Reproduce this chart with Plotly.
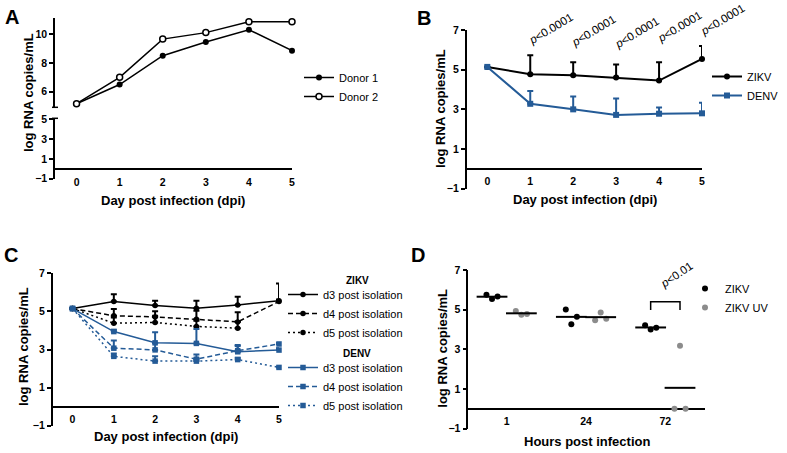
import plotly.graph_objects as go
import numpy as np

W, H = 787, 453
def fx(p): return p / W
def fy(p): return 1 - p / H

BLUE = "#245b97"
GRAY = "#8c8c8c"
FONT = "Liberation Sans"

# ---------------- data ----------------
days = [0, 1, 2, 3, 4, 5]
# Panel A
donor1 = [5.17, 6.5, 8.5, 9.45, 10.3, 8.85]
donor2 = [5.17, 7.0, 9.65, 10.1, 10.85, 10.85]
# Panel B (mean, upper SD)
zikv_b = [5.14, 4.77, 4.72, 4.60, 4.45, 5.54]
zikv_b_err = [None, 0.96, 0.66, 0.66, 0.93, 0.65]
denv_b = [5.14, 3.28, 3.00, 2.72, 2.78, 2.80]
denv_b_err = [None, 0.64, 0.65, 0.83, 0.31, 0.53]
p_labels_b = ["<0.0001"] * 5
# Panel C
zikv_d3 = [5.15, 5.52, 5.31, 5.17, 5.34, 5.56]
zikv_d3_err = [None, 0.38, 0.25, 0.39, 0.43, 0.91]
zikv_d4 = [5.15, 4.77, 4.71, 4.59, 4.45, 5.52]
zikv_d4_err = [None, 0.35, 0.30, 0.45, 0.50, 0.10]
zikv_d5 = [5.15, 4.38, 4.42, 4.21, 4.12, None]
zikv_d5_err = [None, 0.30, 0.35, 0.30, 0.35, None]
denv_d3 = [5.15, 3.94, 3.35, 3.32, 2.88, 2.97]
denv_d3_err = [None, 0.10, 0.55, 0.75, 0.30, 0.10]
denv_d4 = [5.15, 3.07, 2.98, 2.49, 2.94, 3.29]
denv_d4_err = [None, 0.40, 0.35, 0.25, 0.30, 0.05]
denv_d5 = [5.15, 2.64, 2.39, 2.39, 2.47, 2.06]
denv_d5_err = [None, 0.15, 0.25, 0.15, 0.10, 0.05]
# Panel D
hours = ["1", "24", "72"]
zikv_d = [[5.75, 5.54, 5.67], [5.01, 4.26, 4.64], [4.22, 4.00, 4.09]]
zikv_uv_d = [[4.93, 4.74, 4.78], [4.47, 4.86, 4.54], [0.00, 3.18, 0.00]]
p_label_d = "<0.01"

# ---------------- layout helpers ----------------
A_x = (55, 292); A_up = (18.2, 107.3); A_lo = (118.3, 178.7)
B_x = (466.7, 702); B_y = (30, 188.7)
C_x = (52.7, 279); C_y = (273.3, 425.7)
D_x = (468.3, 705); D_y = (270, 428.7)
Y_RNG = [-1, 7]

tickfont = dict(family=FONT, size=10.5, color="black", weight="bold")
LW = 1.5

def yax(dom, rng, tickvals, anchor):
    return dict(domain=[fy(dom[1]), fy(dom[0])], range=rng, tickvals=tickvals,
                showline=True, linewidth=LW, linecolor="black", ticks="outside",
                ticklen=4, tickwidth=LW, tickcolor="black", showgrid=False,
                zeroline=True, zerolinecolor="black", zerolinewidth=LW,
                tickfont=tickfont, anchor=anchor, automargin=False)

def xax(dom, rng, zero_py, tickvals, ticktext=None):
    d = dict(domain=[fx(dom[0]), fx(dom[1])], range=rng, tickvals=tickvals,
             showline=False, ticks="", showgrid=False, zeroline=False,
             tickfont=tickfont, anchor="free", position=fy(zero_py + 5),
             automargin=False)
    if ticktext is not None:
        d["ticktext"] = ticktext
    return d

fig = go.Figure()

# ---------------- Panel A ----------------
fig.add_trace(go.Scatter(x=days, y=donor1, name="Donor 1", mode="lines+markers",
                         line=dict(color="black", width=1.5), cliponaxis=False,
                         marker=dict(symbol="circle", size=6, color="black"),
                         xaxis="x", yaxis="y", legend="legend"))
fig.add_trace(go.Scatter(x=days, y=donor2, name="Donor 2", mode="lines+markers",
                         line=dict(color="black", width=1.5), cliponaxis=False,
                         marker=dict(symbol="circle", size=6, color="white",
                                     line=dict(color="black", width=1.5)),
                         xaxis="x", yaxis="y", legend="legend"))
fig.add_trace(go.Scatter(x=[None], y=[None], showlegend=False, xaxis="x", yaxis="y2"))

# ---------------- Panel B ----------------
def err(arr, color):
    return dict(type="data", array=arr, symmetric=False,
                arrayminus=[0] * len(arr), color=color, thickness=2, width=3)

fig.add_trace(go.Scatter(x=days, y=zikv_b, name="ZIKV", mode="lines+markers",
                         line=dict(color="black", width=2), cliponaxis=False,
                         marker=dict(symbol="circle", size=6, color="black"),
                         error_y=err(zikv_b_err, "black"),
                         xaxis="x2", yaxis="y3", legend="legend2"))
fig.add_trace(go.Scatter(x=days, y=denv_b, name="DENV", mode="lines+markers",
                         line=dict(color=BLUE, width=2), cliponaxis=False,
                         marker=dict(symbol="square", size=6, color=BLUE),
                         error_y=err(denv_b_err, BLUE),
                         xaxis="x2", yaxis="y3", legend="legend2"))

# ---------------- Panel C ----------------
c_series = [
    (zikv_d3, zikv_d3_err, "black", "solid", "circle", "legend3"),
    (zikv_d4, zikv_d4_err, "black", "5px,3px", "circle", "legend3"),
    (zikv_d5, zikv_d5_err, "black", "2px,3px", "circle", "legend3"),
    (denv_d3, denv_d3_err, BLUE, "solid", "square", "legend4"),
    (denv_d4, denv_d4_err, BLUE, "5px,3px", "square", "legend4"),
    (denv_d5, denv_d5_err, BLUE, "2px,3px", "square", "legend4"),
]
c_names = ["d3 post isolation", "d4 post isolation", "d5 post isolation"] * 2
for (vals, e, col, dash, sym, leg), nm in zip(c_series, c_names):
    fig.add_trace(go.Scatter(x=days, y=vals, name=nm, mode="lines+markers",
                             line=dict(color=col, width=1.5, dash=dash), cliponaxis=False,
                             marker=dict(symbol=sym, size=5.5, color=col),
                             error_y=err(e, col),
                             xaxis="x3", yaxis="y4", legend=leg))

# ---------------- Panel D ----------------
grp_off = 0.185
jitter = [-0.07, 0.0, 0.07]
bar_x_zikv, bar_y_zikv, bar_x_uv, bar_y_uv = [], [], [], []
pts = {"zx": [], "zy": [], "ux": [], "uy": []}
for i in range(len(hours)):
    for j, v in enumerate(zikv_d[i]):
        pts["zx"].append(i - grp_off + jitter[j]); pts["zy"].append(v)
    for j, v in enumerate(zikv_uv_d[i]):
        pts["ux"].append(i + grp_off + jitter[j]); pts["uy"].append(v)
    bar_x_zikv.append(i - grp_off); bar_y_zikv.append(float(np.mean(zikv_d[i])))
    bar_x_uv.append(i + grp_off); bar_y_uv.append(float(np.mean(zikv_uv_d[i])))

fig.add_trace(go.Scatter(x=pts["zx"], y=pts["zy"], name="ZIKV", mode="markers",
                         marker=dict(size=6, color="black"), cliponaxis=False,
                         xaxis="x4", yaxis="y5", legend="legend5"))
fig.add_trace(go.Scatter(x=pts["ux"], y=pts["uy"], name="ZIKV UV", mode="markers",
                         marker=dict(size=6, color=GRAY), cliponaxis=False,
                         xaxis="x4", yaxis="y5", legend="legend5"))
for bx, by in ((bar_x_zikv, bar_y_zikv), (bar_x_uv, bar_y_uv)):
    fig.add_trace(go.Scatter(x=bx, y=by, mode="markers", showlegend=False,
                             cliponaxis=False,
                             marker=dict(symbol="line-ew-open", size=22, color="black",
                                         line=dict(color="black", width=2)),
                             xaxis="x4", yaxis="y5"))

# ---------------- axes ----------------
fig.update_layout(
    xaxis=xax(A_x, [-0.5, 5], 169, days),
    yaxis=yax(A_up, [4.92, 11.1], [6, 8, 10], "x"),
    yaxis2=yax(A_lo, [-1, 5.1], [-1, 1, 3, 5], "x"),
    xaxis2=xax(B_x, [-0.48, 5], 168.7, days),
    yaxis3=yax(B_y, Y_RNG, [-1, 1, 3, 5, 7], "x2"),
    xaxis3=xax(C_x, [-0.48, 5], 406.7, days),
    yaxis4=yax(C_y, Y_RNG, [-1, 1, 3, 5, 7], "x3"),
    xaxis4=xax(D_x, [-0.484, 2.5], 408.7, [0, 1, 2], hours),
    yaxis5=yax(D_y, Y_RNG, [-1, 1, 3, 5, 7], "x4"),
)
fig.layout.yaxis.zeroline = False

# ---------------- legends ----------------
legfont = dict(family=FONT, size=11, color="black")
def leg(x_px, y_px):
    return dict(x=fx(x_px), y=fy(y_px), xref="container", yref="container",
                xanchor="left", yanchor="top",
                font=legfont, bgcolor="rgba(0,0,0,0)", borderwidth=0,
                tracegroupgap=0)
fig.update_layout(
    legend=leg(299, 63),
    legend2=leg(707, 62),
    legend3=leg(283, 280),
    legend4=leg(283, 353),
    legend5=leg(685, 274),
)

# ---------------- annotations ----------------
ann = []
def text(x, y, t, size=13, bold=True, angle=0, xref="paper", yref="paper", **kw):
    ann.append(dict(x=x, y=y, xref=xref, yref=yref, text=f"<b>{t}</b>" if bold else t,
                    showarrow=False, textangle=angle, xanchor="center", yanchor="middle",
                    font=dict(family=FONT, size=size, color="black"), **kw))

text(fx(12), fy(17.5), "A", size=20)
text(fx(424), fy(18), "B", size=20)
text(fx(10.5), fy(254.5), "C", size=20)
text(fx(418), fy(254.5), "D", size=20)
ytitle = "log RNA copies/mL"
text(fx(29), fy(93), ytitle, angle=-90)
text(fx(440), fy(109), ytitle, angle=-90)
text(fx(23), fy(347), ytitle, angle=-90)
text(fx(441.7), fy(348), ytitle, angle=-90)
xt = "Day post infection (dpi)"
text(fx(173), fy(200), xt)
text(fx(585), fy(199), xt)
text(fx(165.7), fy(436), xt)
text(fx(586.7), fy(441.7), "Hours post infection")
text(fx(357), fy(280), "ZIKV", size=10)
text(fx(357), fy(353), "DENV", size=10)
# p-value label heights (in y units) for panel B, placed via axis-domain fractions
p_y_b = [6.91, 6.79, 6.71, 7.0, 7.35]
for d, lab, py in zip(days[1:], p_labels_b, p_y_b):
    ydom = (py - Y_RNG[0]) / (Y_RNG[1] - Y_RNG[0])
    text(d, ydom, "<i>p</i>" + lab.replace("<", "&lt;"), size=11.5, bold=False, angle=-31,
         xref="x2", yref="y3 domain", xshift=20, yshift=3)
text(2.135, 6.67, "<i>p</i>" + p_label_d.replace("<", "&lt;"), size=11.5, bold=False,
     angle=-34, xref="x4", yref="y5", yshift=2)
fig.update_layout(annotations=ann)

shapes = [
    dict(type="path", xref="x4", yref="y5",
         path=f"M {2 - grp_off},{4.98} L {2 - grp_off},{5.4} L {2 + grp_off},{5.4} L {2 + grp_off},{4.98}",
         line=dict(color="black", width=1.5)),
    dict(type="line", xref="paper", yref="y domain", x0=fx(A_x[0] - 3), x1=fx(A_x[0] + 3),
         y0=0, y1=0, line=dict(color="black", width=1.5)),
    dict(type="line", xref="paper", yref="y2 domain", x0=fx(A_x[0] - 3), x1=fx(A_x[0] + 3),
         y0=1, y1=1, line=dict(color="black", width=1.5)),
]
fig.update_layout(shapes=shapes)

fig.update_layout(width=W, height=H, margin=dict(l=0, r=0, t=0, b=0, autoexpand=False),
                  paper_bgcolor="white", plot_bgcolor="white",
                  font=dict(family=FONT, color="black"))

fig.write_html("out.html", config={"displayModeBar": False},
               post_script="document.body.style.margin='0';document.body.style.padding='0';")
